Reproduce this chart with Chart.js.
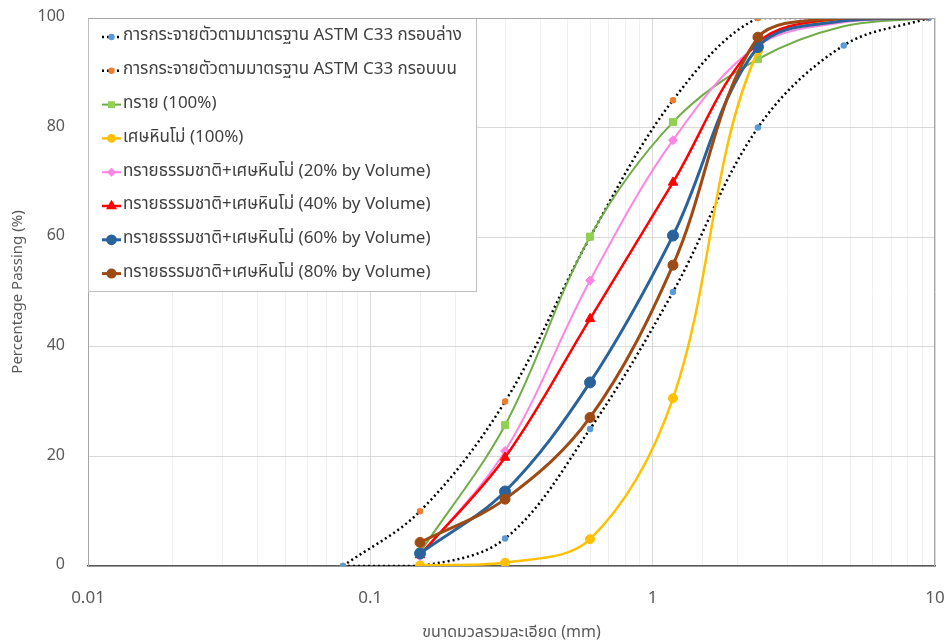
<!DOCTYPE html>
<html>
<head>
<meta charset="utf-8">
<script src="https://cdn.jsdelivr.net/npm/chart.js@4.4.1/dist/chart.umd.min.js"></script>
<style>
  body { margin: 0; background: #fff; }
  #wrap { width: 951px; height: 643px; }
</style>
</head>
<body>
<div id="wrap"><canvas id="myChart" width="951" height="643"></canvas></div>
<script>
// sieve sizes (mm)
const sieveSizes = [0.15, 0.3, 0.6, 1.18, 2.36, 4.75, 9.5];
const boundSizes = [0.08, 0.15, 0.3, 0.6, 1.18, 2.36, 4.75, 9.5];

// ASTM C33 limits
const lowerLimit = [0, 0, 5, 25, 50, 80, 95, 100];
const upperLimit = [0, 10, 30, 60, 85, 100, 100, 100];

// percent passing
const sand100 = [2.5, 25.7, 60.1, 81.0, 92.5, 98.5, 100];
const dust100 = [0.1, 0.6, 4.9, 30.6, 94.0, 100, 100];
const mix20 = [1.8, 21.0, 52.1, 77.7, 95.0, 99.2, 100];
const mix40 = [2.0, 19.8, 45.1, 70.0, 95.5, 100, 100];
const mix60 = [2.3, 13.6, 33.5, 60.3, 94.7, 99.5, 100];
const mix80 = [4.3, 12.2, 27.1, 54.9, 96.5, 100, 100];

const seriesLabels = [
  'การกระจายตัวตามมาตรฐาน ASTM C33 กรอบล่าง',
  'การกระจายตัวตามมาตรฐาน ASTM C33 กรอบบน',
  'ทราย (100%)',
  'เศษหินโม่ (100%)',
  'ทรายธรรมชาติ+เศษหินโม่ (20% by Volume)',
  'ทรายธรรมชาติ+เศษหินโม่ (40% by Volume)',
  'ทรายธรรมชาติ+เศษหินโม่ (60% by Volume)',
  'ทรายธรรมชาติ+เศษหินโม่ (80% by Volume)'
];
const xTickLabels = ['0.01', '0.1', '1', '10'];
const xTitle = 'ขนาดมวลรวมละเอียด (mm)';
const yTitle = 'Percentage Passing (%)';

const thaiFont = "'Noto Sans Thai', 'Noto Sans', 'DejaVu Sans', sans-serif";

const toPoints = (xs, ys) => xs.map((x, i) => ({ x: x, y: ys[i] }));
// markers only on the measured sieves up to 2.36 mm
const sieveRadius = r => (ctx) => (ctx.raw && ctx.raw.x > 3 ? 0 : r);

function boundSet(label, data, markColor) {
  return {
    label: label,
    data: toPoints(boundSizes, data),
    borderColor: '#000000',
    borderWidth: 2.5,
    borderDash: [2, 3],
    pointBackgroundColor: markColor,
    pointBorderColor: markColor,
    pointRadius: 2,
    legendRadius: 2,
    pointStyle: 'circle',
    tension: 0.35,
    order: 9
  };
}

function sampleSet(label, data, line, mark, style, radius, width, order) {
  return {
    label: label,
    data: toPoints(sieveSizes, data),
    borderColor: line,
    borderWidth: width,
    pointBackgroundColor: mark,
    pointBorderColor: mark,
    pointStyle: style,
    pointRadius: sieveRadius(radius),
    legendRadius: radius * 0.7,
    pointBorderWidth: 1,
    tension: 0.35,
    order: order
  };
}

const datasets = [
  boundSet(seriesLabels[0], lowerLimit, '#5B9BD5'),
  boundSet(seriesLabels[1], upperLimit, '#ED7D31'),
  sampleSet(seriesLabels[2], sand100, '#70AD47', '#92D050', 'rect', 5, 2, 7),
  sampleSet(seriesLabels[3], dust100, '#FFC000', '#FFC000', 'circle', 4.5, 2.5, 6),
  sampleSet(seriesLabels[4], mix20, '#FF85E2', '#FF85E2', 'rectRot', 4.5, 2, 5),
  sampleSet(seriesLabels[5], mix40, '#FF0000', '#FF0000', 'triangle', 5.5, 2.5, 4),
  sampleSet(seriesLabels[6], mix60, '#2A639B', '#2A639B', 'circle', 5.5, 3, 3),
  sampleSet(seriesLabels[7], mix80, '#9E4A14', '#9E4A14', 'circle', 5, 3, 2)
];

// legend drawn inside the plot, top-left, on a white box
const insideLegend = {
  id: 'insideLegend',
  beforeDatasetsDraw(chart) {
    const ctx = chart.ctx;
    const area = chart.chartArea;
    const boxW = 388, boxH = 273;
    ctx.save();
    ctx.fillStyle = '#ffffff';
    ctx.fillRect(area.left, area.top, boxW, boxH);
    ctx.strokeStyle = '#bfbfbf';
    ctx.lineWidth = 1;
    ctx.strokeRect(area.left + 0.5, area.top + 0.5, boxW, boxH);
    ctx.restore();
  },
  afterDatasetsDraw(chart) {
    const ctx = chart.ctx;
    const area = chart.chartArea;
    const rowH = 33.8;
    chart.data.datasets.forEach((ds, i) => {
      const y = area.top + 19 + i * rowH;
      const x0 = area.left + 14;
      ctx.save();
      ctx.strokeStyle = ds.borderColor;
      ctx.lineWidth = ds.borderWidth;
      ctx.setLineDash(ds.borderDash || []);
      ctx.beginPath();
      ctx.moveTo(x0, y);
      ctx.lineTo(x0 + 19, y);
      ctx.stroke();
      ctx.setLineDash([]);
      ctx.fillStyle = ds.pointBackgroundColor;
      ctx.strokeStyle = ds.pointBorderColor;
      Chart.helpers.drawPoint(ctx, { pointStyle: ds.pointStyle, radius: ds.legendRadius, rotation: 0, borderWidth: 1 }, x0 + 9.5, y);
      ctx.fillStyle = '#404040';
      ctx.font = '17px ' + thaiFont;
      ctx.textBaseline = 'middle';
      ctx.textAlign = 'left';
      ctx.fillText(ds.label, x0 + 21, y);
      ctx.restore();
    });
  }
};

// gray frame round the plot area
const plotFrame = {
  id: 'plotFrame',
  afterDraw(chart) {
    const a = chart.chartArea;
    const ctx = chart.ctx;
    ctx.save();
    ctx.strokeStyle = '#a6a6a6';
    ctx.lineWidth = 1;
    ctx.beginPath();
    ctx.moveTo(a.left, a.top + 0.5);
    ctx.lineTo(a.right - 0.5, a.top + 0.5);
    ctx.lineTo(a.right - 0.5, a.bottom);
    ctx.stroke();
    ctx.restore();
  }
};

const isDecade = v => Math.abs(Math.log10(v) - Math.round(Math.log10(v))) < 1e-6;

new Chart(document.getElementById('myChart').getContext('2d'), {
  type: 'line',
  data: { datasets: datasets },
  options: {
    responsive: false,
    animation: false,
    layout: { padding: { top: 18, right: 16, left: 0, bottom: 0 } },
    plugins: {
      legend: { display: false },
      tooltip: { enabled: false }
    },
    scales: {
      x: {
        type: 'logarithmic',
        min: 0.01,
        max: 10,
        afterFit: (scale) => {
          scale.height = 77;
          scale.paddingLeft = 0;
          scale.paddingRight = 0;
        },
        ticks: {
          autoSkip: false,
          maxRotation: 0,
          padding: 23,
          color: '#595959',
          font: { size: 17, family: thaiFont },
          callback: (v) => isDecade(v) ? xTickLabels[Math.round(Math.log10(v)) + 2] : ''
        },
        grid: {
          drawTicks: false,
          color: (ctx) => ctx.tick && isDecade(ctx.tick.value) ? '#d9d9d9' : '#f0f0f0'
        },
        border: { color: '#595959', width: 1.5 },
        title: {
          display: true,
          text: xTitle,
          color: '#595959',
          font: { size: 16, family: thaiFont },
          padding: { top: 0, bottom: 0 }
        }
      },
      y: {
        min: 0,
        max: 100,
        afterFit: (scale) => {
          scale.width = 88;
          scale.paddingTop = 0;
          scale.paddingBottom = 0;
        },
        ticks: {
          stepSize: 20,
          padding: 23,
          color: '#595959',
          font: { size: 16, family: thaiFont }
        },
        grid: { drawTicks: false, color: '#d9d9d9' },
        border: { color: '#a6a6a6' },
        title: {
          display: true,
          text: yTitle,
          color: '#595959',
          font: { size: 15, family: thaiFont },
          padding: { top: 10, bottom: 0 }
        }
      }
    }
  },
  plugins: [insideLegend, plotFrame]
});
</script>
</body>
</html>
